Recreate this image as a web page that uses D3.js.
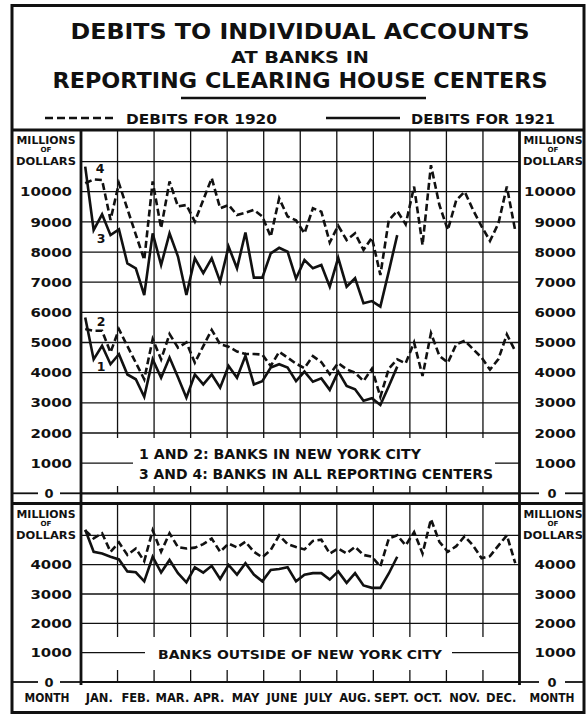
<!DOCTYPE html>
<html>
<head>
<meta charset="utf-8">
<script src="https://cdn.jsdelivr.net/npm/d3@7"></script>
<style>
  body { margin: 0; background: #fff; }
</style>
</head>
<body>
<div id="chart"></div>
<script>
// month bands along the bottom
const months = ["JAN.", "FEB.", "MAR.", "APR.", "MAY", "JUNE", "JULY", "AUG.", "SEPT.", "OCT.", "NOV.", "DEC."]

// weekly debits, millions of dollars
// 4: all reporting centers, 1920
const all1920 = [10280, 10410, 10390, 9065, 10280, 9430, 8580, 7740, 10340, 8790,
    10340, 9510, 9560, 9010, 9730, 10450, 9450, 9560, 9230, 9300,
    9400, 9180, 8510, 9780, 9180, 9050, 8620, 9450, 9340, 8320,
    8870, 8400, 8620, 8070, 8480, 7240, 9060, 9360, 8920, 10170,
    8230, 10880, 9560, 8730, 9720, 10000, 9390, 8850, 8370, 8950,
    10170, 8700]
// 3: all reporting centers, 1921
const all1921 = [10830, 8730, 9250, 8560, 8750, 7620, 7460, 6575, 8620, 7570,
    8620, 7850, 6575, 7790, 7300, 7790, 7020, 8180, 7460, 8650,
    7150, 7150, 7955, 8140, 8010, 7120, 7735, 7460, 7570, 6850,
    7810, 6850, 7130, 6300, 6375, 6190, 7360, 8560]
// 2: New York City, 1920
const nyc1920 = [5450, 5390, 5390, 4670, 5440, 4880, 4330, 3780, 5110, 4440,
    5280, 4830, 5000, 4330, 4880, 5420, 4940, 4860, 4700, 4620,
    4620, 4600, 4220, 4690, 4500, 4300, 4150, 4550, 4350, 3950,
    4320, 4110, 4000, 3720, 4130, 3200, 4130, 4440, 4310, 5000,
    3890, 5310, 4560, 4330, 4940, 5060, 4780, 4500, 4100, 4450,
    5270, 4710]
// 1: New York City, 1921
const nyc1921 = [5830, 4440, 4890, 4280, 4610, 3940, 3780, 3200, 4440, 3830,
    4500, 3850, 3170, 3940, 3610, 3940, 3500, 4220, 3830, 4560,
    3610, 3720, 4170, 4280, 4170, 3720, 4035, 3700, 3810, 3430,
    4035, 3560, 3450, 3070, 3150, 2930, 3550, 4200]
// banks outside New York City
const outside1920 = [5170, 4900, 5070, 4440, 4760, 4330, 4550, 4120, 5170, 4440,
    5070, 4600, 4550, 4580, 4700, 4890, 4440, 4720, 4590, 4780,
    4440, 4250, 4500, 5000, 4700, 4600, 4520, 4810, 4850, 4380,
    4550, 4380, 4610, 4330, 4270, 3940, 4890, 5000, 4660, 5110,
    4380, 5550, 4780, 4440, 4630, 4970, 4650, 4220, 4290, 4650,
    5000, 4050]
const outside1921 = [5190, 4440, 4380, 4270, 4180, 3770, 3740, 3430, 4270, 3730,
    4160, 3710, 3400, 3910, 3730, 3960, 3510, 3990, 3660, 4050,
    3660, 3430, 3820, 3850, 3910, 3430, 3660, 3710, 3710, 3490,
    3770, 3380, 3710, 3290, 3210, 3210, 3700, 4270]

// axis ticks
const upperTicks = [1000, 2000, 3000, 4000, 5000, 6000, 7000, 8000, 9000, 10000]
const upperGrid = [2000, 3000, 4000, 5000, 6000, 7000, 8000, 9000, 10000, 11000]
const lowerTicks = [1000, 2000, 3000, 4000]
const lowerGrid = [2000, 3000, 4000, 5000]

const ink = "#111"
const font = "'DejaVu Sans', sans-serif"
const left = 81, right = 519.5

const svg = d3.select("#chart")
    .append("svg")
    .attr("width", 587)
    .attr("height", 715)
    .style("font-family", font)
    .style("font-weight", "bold")

const week = d3.scaleLinear().domain([0, 52]).range([left, right])
const month = d3.scaleBand().domain(months).range([left, right])
const yTop = d3.scaleLinear().domain([0, 12000]).range([493.3, 131.4])
const yBot = d3.scaleLinear().domain([0, 6000]).range([682, 506])

function hline(x1, x2, y, w) {
    svg.append("line")
        .attr("x1", x1).attr("x2", x2).attr("y1", y).attr("y2", y)
        .attr("stroke", ink).attr("stroke-width", w)
}

function label(txt, x, y, size, len, anchor = "middle") {
    const t = svg.append("text")
        .attr("x", x).attr("y", y)
        .attr("text-anchor", anchor)
        .style("font-size", size + "px")
        .attr("fill", ink)
        .text(txt)
    if (len) t.attr("textLength", len).attr("lengthAdjust", "spacingAndGlyphs")
    return t
}

// header
label("DEBITS TO INDIVIDUAL ACCOUNTS", 300, 39, 21, 459)
label("AT BANKS IN", 300, 62.5, 15, 138)
label("REPORTING CLEARING HOUSE CENTERS", 300, 87.5, 21, 495)
hline(181, 426, 98, 2.5)

// legend
svg.append("line")
    .attr("x1", 45).attr("x2", 117).attr("y1", 118).attr("y2", 118)
    .attr("stroke", ink).attr("stroke-width", 2.5).attr("stroke-dasharray", "8,4")
label("DEBITS FOR 1920", 126, 124, 14.5, 151, "start")
hline(326, 400, 118, 2.5)
label("DEBITS FOR 1921", 411, 124, 14.5, 144, "start")

function drawPanel(y, grid, ticks, top, stub, vEnd, tickStart) {
    // horizontal grid
    svg.append("g").selectAll("line")
        .data(grid)
        .join("line")
        .attr("x1", left).attr("x2", right)
        .attr("y1", d => y(d)).attr("y2", d => y(d))
        .attr("stroke", ink).attr("stroke-width", 1.3)
    // the 1000 line is broken by the note
    hline(left, stub[0], y(1000), 1.3)
    hline(stub[1], right, y(1000), 1.3)

    // month lines, plus short ticks up from zero
    const xs = months.slice(1).map(m => month(m))
    svg.append("g").selectAll("line")
        .data(xs)
        .join("line")
        .attr("x1", d => d).attr("x2", d => d)
        .attr("y1", top).attr("y2", vEnd)
        .attr("stroke", ink).attr("stroke-width", 1.3)
    svg.append("g").selectAll("line")
        .data(xs)
        .join("line")
        .attr("x1", d => d).attr("x2", d => d)
        .attr("y1", tickStart).attr("y2", y(0))
        .attr("stroke", ink).attr("stroke-width", 1.3)
    hline(left, right, y(0), 2.2)

    // value labels on both sides
    ;[72, 576].forEach(x => {
        svg.append("g")
            .attr("transform", `translate(${x},0)`)
            .call(d3.axisLeft(y).tickValues(ticks).tickFormat(d3.format("d")).tickSize(0).tickPadding(0))
            .call(g => g.select(".domain").remove())
            .attr("font-family", font)
            .attr("font-size", 13)
            .selectAll("text")
            .attr("fill", ink)
            .attr("textLength", d => String(d).length * 10.4)
            .attr("lengthAdjust", "spacingAndGlyphs")
    })

    // zero marks "— 0 —"
    const y0 = y(0)
    hline(13, 38, y0, 1.8)
    hline(60, left, y0, 1.8)
    label("0", 49, y0 + 4.7, 13, 9)
    hline(right, 539, y0, 1.8)
    hline(565, 583, y0, 1.8)
    label("0", 552, y0 + 4.7, 13, 9)

    // units
    const yu = y(grid[grid.length - 1])
    ;[46, 553].forEach(x => {
        label("MILLIONS", x, yu - 17.5, 11, 59)
        label("OF", x, yu - 9.5, 7, 11)
        label("DOLLARS", x, yu + 3.5, 11, 60)
    })
}

drawPanel(yTop, upperGrid, upperTicks, 130, [133, 495], 438, 486)
drawPanel(yBot, lowerGrid, lowerTicks, 503, [145, 452], 637, 670)

// notes
label("1 AND 2: BANKS IN NEW YORK CITY", 139, 459, 13.5, 282, "start")
label("3 AND 4: BANKS IN ALL REPORTING CENTERS", 139, 479, 13.5, 354, "start")
label("BANKS OUTSIDE OF NEW YORK CITY", 300, 659, 13, 284)

// series
const topLine = d3.line().x((d, i) => week(i + 0.5)).y(d => yTop(d))
const botLine = d3.line().x((d, i) => week(i + 0.5)).y(d => yBot(d))

const series = [
    [all1920, topLine, true],
    [nyc1920, topLine, true],
    [outside1920, botLine, true],
    [all1921, topLine, false],
    [nyc1921, topLine, false],
    [outside1921, botLine, false],
]
series.forEach(([data, line, dashed]) => {
    svg.append("path")
        .datum(data)
        .attr("fill", "none")
        .attr("stroke", ink)
        .attr("stroke-width", 2.6)
        .attr("stroke-linejoin", "miter")
        .attr("stroke-dasharray", dashed ? "7,3.5" : null)
        .attr("d", line)
})

// series numbers
label("4", 100, 172.5, 12.5)
label("3", 101, 243, 12.5)
label("2", 101, 325.5, 12.5)
label("1", 101, 370.5, 12.5)

// months
svg.append("g")
    .attr("transform", "translate(0,694)")
    .call(d3.axisBottom(month).tickSize(0).tickPadding(0))
    .call(g => g.select(".domain").remove())
    .attr("font-family", font)
    .attr("font-size", 11.5)
    .selectAll("text")
    .attr("fill", ink)
label("MONTH", 47, 702, 11.5, 45)
label("MONTH", 552, 702, 11.5, 45)

// frame
hline(12, 584, 130, 2.8)
hline(12, 584, 503.5, 2.8)
;[left, right].forEach(x => {
    svg.append("line")
        .attr("x1", x).attr("x2", x).attr("y1", 130).attr("y2", 685)
        .attr("stroke", ink).attr("stroke-width", 2.8)
})
svg.append("rect")
    .attr("x", 12).attr("y", 5.5)
    .attr("width", 572).attr("height", 707)
    .attr("fill", "none")
    .attr("stroke", ink)
    .attr("stroke-width", 3)
</script>
</body>
</html>
